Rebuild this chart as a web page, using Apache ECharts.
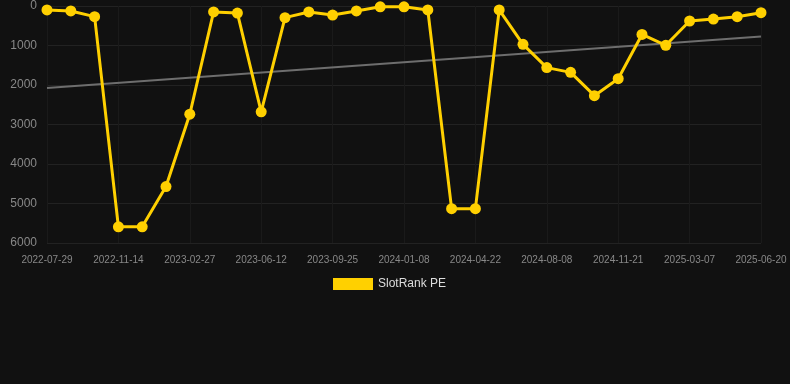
<!doctype html>
<html>
<head>
<meta charset="utf-8">
<title>SlotRank PE</title>
<style>
  html, body { margin: 0; padding: 0; background: #111111; }
  #main { width: 790px; height: 384px; }
</style>
</head>
<body>
<div id="main"></div>
<script src="https://cdn.jsdelivr.net/npm/echarts@6/dist/echarts.min.js"></script>
<script>

var dates = [
    '2022-07-29', '2022-09-04', '2022-10-09', '2022-11-14', '2022-12-20', '2023-01-22',
    '2023-02-27', '2023-04-04', '2023-05-08', '2023-06-12', '2023-07-18', '2023-08-21',
    '2023-09-25', '2023-10-30', '2023-12-04', '2024-01-08', '2024-02-12', '2024-03-18',
    '2024-04-22', '2024-05-28', '2024-07-02', '2024-08-08', '2024-09-12', '2024-10-17',
    '2024-11-21', '2024-12-26', '2025-01-30', '2025-03-07', '2025-04-11', '2025-05-16',
    '2025-06-20'
];

var rank = [
    100, 125, 270, 5590, 5590, 4570, 2740, 150, 180, 2680, 295,
    150, 230, 125, 20, 20, 100, 5130, 5130, 100, 970,
    1560, 1680, 2270, 1840, 720, 995, 380, 330, 270, 170
];

// trend line end values
var trend = [2075, 775];

var chart = echarts.init(document.getElementById('main'));

chart.setOption({
    backgroundColor: '#111111',
    animation: false,
    grid: {
        left: 47,
        right: 29,
        top: 6,
        bottom: 141
    },
    legend: {
        top: 278,
        left: 333,
        padding: 0,
        itemWidth: 40,
        itemHeight: 12,
        itemGap: 6,
        icon: 'rect',
        data: ['SlotRank PE'],
        textStyle: { color: '#dddddd', fontSize: 12, fontFamily: 'Liberation Sans' }
    },
    xAxis: {
        type: 'category',
        data: dates,
        boundaryGap: false,
        axisLine: { show: false },
        axisTick: { show: false },
        axisLabel: {
            interval: 2,
            color: '#888888',
            fontSize: 10,
            fontFamily: 'Liberation Sans',
            margin: 12
        },
        splitLine: {
            show: true,
            interval: 2,
            lineStyle: { color: '#1a1a1a', width: 1 }
        }
    },
    yAxis: {
        type: 'value',
        inverse: true,
        min: 0,
        max: 6000,
        interval: 1000,
        axisLine: { show: false },
        axisTick: { show: false },
        axisLabel: {
            color: '#888888',
            fontSize: 12,
            fontFamily: 'Liberation Sans',
            margin: 10,
            formatter: function (v) { return String(v); }
        },
        splitLine: { lineStyle: { color: '#222222', width: 1 } }
    },
    series: [
        {
            name: 'SlotRank PE',
            type: 'line',
            data: rank,
            symbol: 'circle',
            symbolSize: 11,
            color: '#ffd000',
            lineStyle: { color: '#ffd000', width: 3 },
            itemStyle: { color: '#ffd000' },
            z: 3
        },
        {
            name: 'trend',
            type: 'line',
            data: [[dates[0], trend[0]], [dates[dates.length - 1], trend[1]]],
            symbol: 'none',
            lineStyle: { color: '#6e6e6e', width: 2 },
            z: 2
        }
    ]
});
</script>
</body>
</html>
